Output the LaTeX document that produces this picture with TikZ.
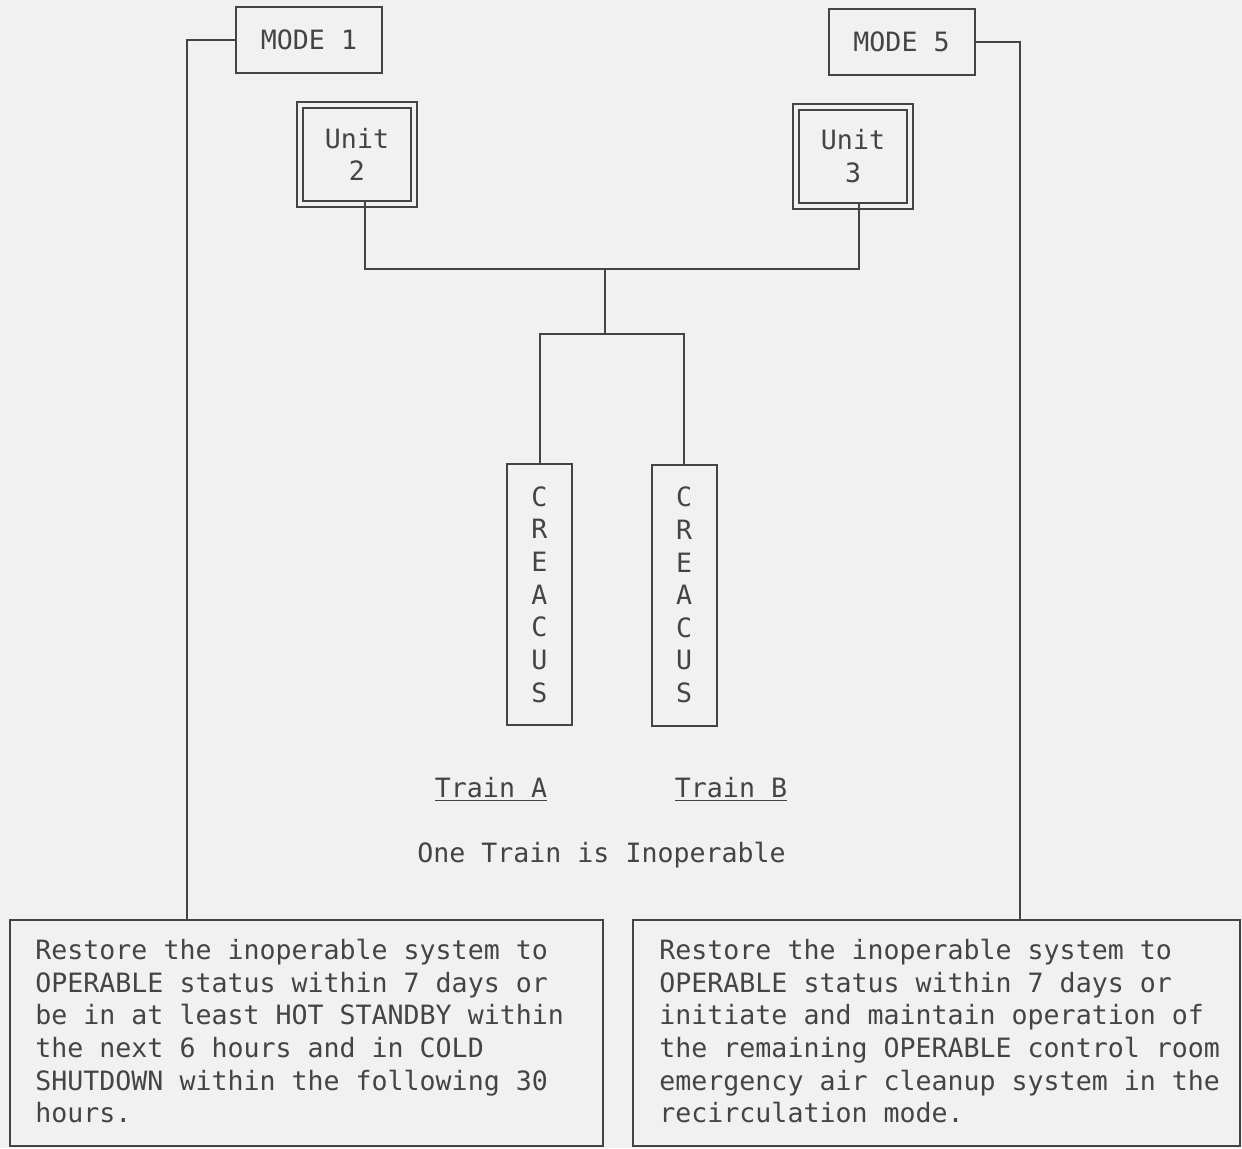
\documentclass[tikz,border=0pt]{standalone}
\usepackage{fontspec}
\setmonofont{DejaVu Sans Mono}
\usetikzlibrary{positioning}
\definecolor{pagebg}{RGB}{241,241,241}
\definecolor{inkgray}{RGB}{68,68,68}
\tikzset{
  modebox/.style={draw=inkgray, line width=1pt, minimum width=73pt, minimum height=33pt, inner sep=0pt},
  unitbox/.style={draw=inkgray, line width=1pt, double=pagebg, double distance=2pt, minimum width=57pt, minimum height=49.5pt, align=center, inner sep=0pt},
  trainbox/.style={draw=inkgray, line width=1pt, minimum width=32.5pt, minimum height=130.5pt, align=center, inner sep=0pt},
  actbox/.style={draw=inkgray, line width=1pt, minimum height=113pt, inner sep=0pt},
  wire/.style={draw=inkgray, line width=1pt},
}
\begin{document}
\begin{tikzpicture}[x=0.5pt,y=0.5pt,yscale=-1,xscale=1,font=\fontsize{13.3pt}{16.3pt}\selectfont\ttfamily,text=inkgray]
\useasboundingbox (0,0) rectangle (1242,1148);
\fill[pagebg] (0,0) rectangle (1242,1148);

%Shape: Rectangle [mode boxes]
\node[modebox] (mode1) at (309,40) {MODE 1};
\node[modebox] (mode5) at (901.5,42) {MODE 5};
%Shape: Double Rectangle [units]
\node[unitbox] (unit2) at (357,154.5) {Unit\\2};
\node[unitbox] (unit3) at (853,156) {Unit\\3};
%Shape: Rectangle [trains]
\node[trainbox] (creA) at (539.5,594.5) {C\\R\\E\\A\\C\\U\\S};
\node[trainbox] (creB) at (684,595) {C\\R\\E\\A\\C\\U\\S};
%Shape: Rectangle [actions]
\node[actbox, minimum width=296.5pt] (actL) at (306.5,1033) {};
\node[actbox, minimum width=303.5pt] (actR) at (936.5,1033) {};

% Text Node
\node[anchor=base, inner sep=0pt] (trainA) at (491,797) {\underline{Train A}};
% Text Node
\node[anchor=base, inner sep=0pt] (trainB) at (731,797) {\underline{Train B}};
% Text Node
\node[anchor=base, inner sep=0pt] (oneTrain) at (601.5,862) {One Train is Inoperable};
% Text Node
\node[anchor=north west, align=left, inner sep=0pt] (txtL) at (35,939) {Restore the inoperable system to\\OPERABLE status within 7 days or\\be in at least HOT STANDBY within\\the next 6 hours and in COLD\\SHUTDOWN within the following 30\\hours.};
% Text Node
\node[anchor=north west, align=left, inner sep=0pt] (txtR) at (659,939) {Restore the inoperable system to\\OPERABLE status within 7 days or\\initiate and maintain operation of\\the remaining OPERABLE control room\\emergency air cleanup system in the\\recirculation mode.};

%Straight Lines [mode to actions]
\coordinate (busL) at (187,40);
\coordinate (busR) at (1020,42);
\draw[wire] (mode1.west) -- (busL) -- (busL |- actL.north);
\draw[wire] (mode5.east) -- (busR) -- (busR |- actR.north);
%Straight Lines [units to trains]
\coordinate (tee) at (605,269);
\coordinate (fork) at (605,334);
\draw[wire] ([xshift=4pt,yshift=-1.5pt]unit2.south) |- (tee) -| ([xshift=3pt,yshift=-1.5pt]unit3.south);
\draw[wire] (tee) -- (fork);
\draw[wire] (creA.north) |- (fork) -| (creB.north);

\end{tikzpicture}
\end{document}
